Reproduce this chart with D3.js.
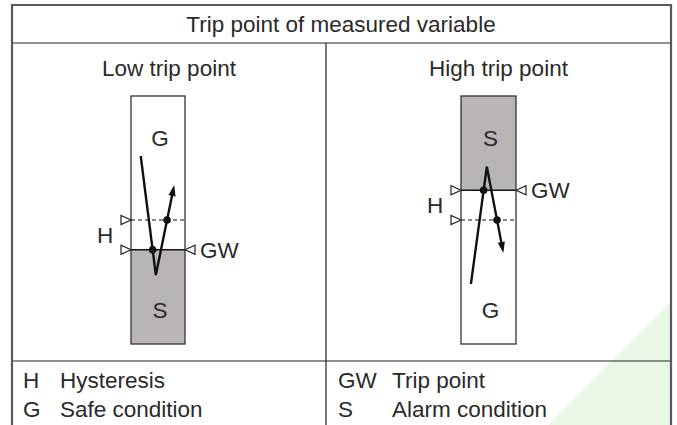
<!DOCTYPE html>
<html>
<head>
<meta charset="utf-8">
<script src="https://cdn.jsdelivr.net/npm/d3@7"></script>
<style>
  html, body { margin: 0; padding: 0; background: #fff; }
  svg { display: block; }
  text { font-family: "Liberation Sans", Arial, sans-serif; fill: #2a2a2a; }
</style>
</head>
<body>
<svg id="chart" width="677" height="425"></svg>
<script>
// ---- data ----
const title = "Trip point of measured variable";
const panelTitles = ["Low trip point", "High trip point"];
const tripPoint = [38, 62];          // GW level (measured variable, 0-100)
const hysteresisLevel = [50, 50];    // dashed H level
const alarmOnTop = [false, true];    // where the S (alarm) zone is
// measured variable over time (t 0-10, value 0-100)
const pathTime = [[1.8, 4.6, 8.0], [1.8, 4.7, 7.7]];
const pathValue = [[75.8, 27.8, 64.1], [24.2, 71.5, 36.7]];
const legendLeft = [["H", "Hysteresis"], ["G", "Safe condition"]];
const legendRight = [["GW", "Trip point"], ["S", "Alarm condition"]];

// ---- layout ----
const FS = 22.5;
const svg = d3.select("#chart");
const T = { x0: 12, x1: 671, y0: 5, yTitle: 43, yFoot: 361, y1: 426, xMid: 326 };
const barX = [[131, 185], [461, 516]];
const y = d3.scaleLinear().domain([0, 100]).range([344, 96]);

// watermark triangle
svg.append("polygon")
  .attr("points", "548,425 670,303 670,425")
  .attr("fill", "#e8f8e5");

// table lines
const g = svg.append("g");
g.append("line").attr("x1", T.x0).attr("x2", T.x1).attr("y1", T.yTitle).attr("y2", T.yTitle)
  .attr("stroke", "#222").attr("stroke-width", 1.2);
g.append("line").attr("x1", T.x0).attr("x2", T.x1).attr("y1", T.yFoot).attr("y2", T.yFoot)
  .attr("stroke", "#222").attr("stroke-width", 1.2);
g.append("line").attr("x1", T.xMid).attr("x2", T.xMid).attr("y1", T.yTitle).attr("y2", T.y1)
  .attr("stroke", "#222").attr("stroke-width", 1.2);
g.append("path")
  .attr("d", `M${T.x0},${T.y1}V${T.y0}H${T.x1}V${T.y1}`)
  .attr("fill", "none").attr("stroke", "#5a5a5a").attr("stroke-width", 2.2);

svg.append("text").attr("x", 341).attr("y", 32).attr("text-anchor", "middle")
  .attr("font-size", FS).text(title);

const colCenter = [(T.x0 + T.xMid) / 2, (T.xMid + T.x1) / 2];

panelTitles.forEach((pt, i) => {
  svg.append("text").attr("x", colCenter[i]).attr("y", 76).attr("text-anchor", "middle")
    .attr("font-size", FS).text(pt);

  const [bx0, bx1] = barX[i];
  const x = d3.scaleLinear().domain([0, 10]).range([bx0, bx1]);
  const pg = svg.append("g");
  const gwY = y(tripPoint[i]);
  const hY = y(hysteresisLevel[i]);

  // bar background and alarm zone
  pg.append("rect").attr("x", bx0).attr("y", y(100)).attr("width", bx1 - bx0)
    .attr("height", y(0) - y(100)).attr("fill", "#fff");
  const sTop = alarmOnTop[i] ? y(100) : gwY;
  const sBot = alarmOnTop[i] ? gwY : y(0);
  pg.append("rect").attr("x", bx0).attr("y", sTop).attr("width", bx1 - bx0)
    .attr("height", sBot - sTop).attr("fill", "#b9b5b4");

  // GW line & dashed H line
  pg.append("line").attr("x1", bx0).attr("x2", bx1).attr("y1", gwY).attr("y2", gwY)
    .attr("stroke", "#111").attr("stroke-width", 1.3);
  pg.append("line").attr("x1", bx0).attr("x2", bx1).attr("y1", hY).attr("y2", hY)
    .attr("stroke", "#111").attr("stroke-width", 1.1).attr("stroke-dasharray", "4,3");

  // bar border
  pg.append("rect").attr("x", bx0).attr("y", y(100)).attr("width", bx1 - bx0)
    .attr("height", y(0) - y(100)).attr("fill", "none")
    .attr("stroke", "#333").attr("stroke-width", 1.3);

  // triangles
  const tri = (tx, ty, dir) => {
    const w = 10, h = 4.5;
    pg.append("polygon")
      .attr("points", `${tx},${ty} ${tx - dir * w},${ty - h} ${tx - dir * w},${ty + h}`)
      .attr("fill", "#fff").attr("stroke", "#222").attr("stroke-width", 1.2);
  };
  tri(bx0, gwY, 1);
  tri(bx0, hY, 1);
  tri(bx1, gwY, -1);

  // labels
  pg.append("text").attr("x", bx0 - 26).attr("y", (gwY + hY) / 2 + 8)
    .attr("text-anchor", "middle").attr("font-size", FS).text("H");
  pg.append("text").attr("x", bx1 + 15).attr("y", gwY + 8)
    .attr("font-size", FS).text("GW");
  const cx = (bx0 + bx1) / 2 + 2;
  pg.append("text").attr("x", cx).attr("y", 146).attr("text-anchor", "middle")
    .attr("font-size", FS).text(alarmOnTop[i] ? "S" : "G");
  pg.append("text").attr("x", cx).attr("y", 318).attr("text-anchor", "middle")
    .attr("font-size", FS).text(alarmOnTop[i] ? "G" : "S");

  // trajectory
  const pts = pathTime[i].map((t, k) => [x(t), y(pathValue[i][k])]);
  const tip = pts[pts.length - 1], prev = pts[pts.length - 2];
  const dx = tip[0] - prev[0], dy = tip[1] - prev[1];
  const L = Math.hypot(dx, dy), ux = dx / L, uy = dy / L;
  const aLen = 11, aW = 3.6;
  const base = [tip[0] - ux * aLen, tip[1] - uy * aLen];
  const linePts = pts.slice(0, -1).concat([[tip[0] - ux * (aLen - 2), tip[1] - uy * (aLen - 2)]]);
  pg.append("path").attr("d", d3.line()(linePts)).attr("fill", "none")
    .attr("stroke", "#111").attr("stroke-width", 2.4).attr("stroke-linejoin", "miter");
  pg.append("polygon")
    .attr("points", `${tip[0]},${tip[1]} ${base[0] - uy * aW},${base[1] + ux * aW} ${base[0] + uy * aW},${base[1] - ux * aW}`)
    .attr("fill", "#111");

  // dots where the path crosses GW (first segment) and H (second segment)
  const cross = (a, b, level) => {
    const ly = y(level);
    const f = (ly - a[1]) / (b[1] - a[1]);
    return [a[0] + f * (b[0] - a[0]), ly];
  };
  const dots = [cross(pts[0], pts[1], tripPoint[i]), cross(pts[1], pts[2], hysteresisLevel[i])];
  pg.selectAll("circle.d").data(dots).enter().append("circle")
    .attr("cx", d => d[0]).attr("cy", d => d[1]).attr("r", 3.8).attr("fill", "#111");
});

// legend
const legX = [[23, 60], [338, 392]];
[legendLeft, legendRight].forEach((items, i) => {
  items.forEach((it, k) => {
    const yy = 388 + k * 29;
    svg.append("text").attr("x", legX[i][0]).attr("y", yy).attr("font-size", FS).text(it[0]);
    svg.append("text").attr("x", legX[i][1]).attr("y", yy).attr("font-size", FS).text(it[1]);
  });
});
</script>
</body>
</html>
